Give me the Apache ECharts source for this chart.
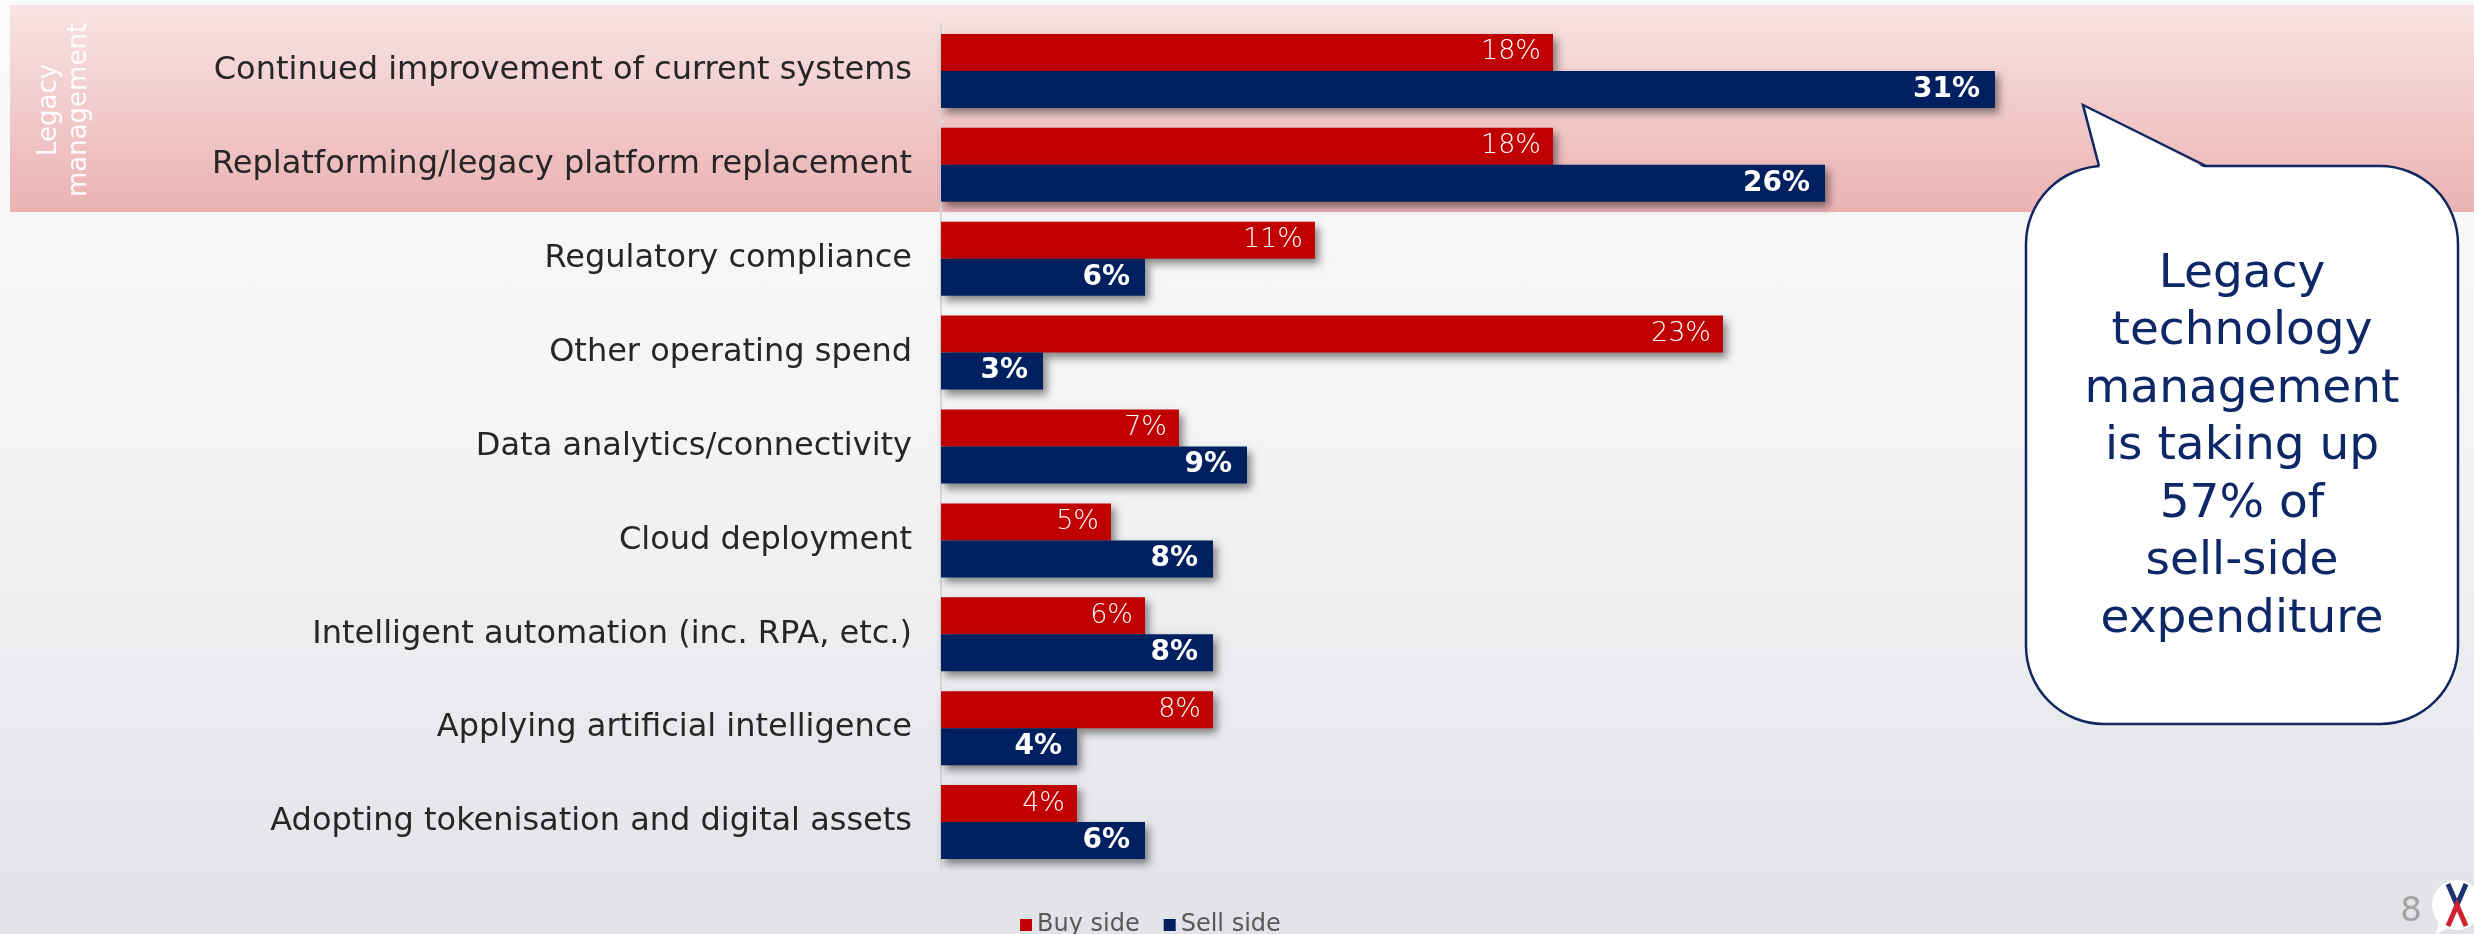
<!DOCTYPE html>
<html>
<head>
<meta charset="utf-8">
<title>Technology spend: buy side vs sell side</title>
<script src="https://cdn.jsdelivr.net/npm/echarts@6/dist/echarts.min.js"></script>
<style>
  html, body { margin: 0; padding: 0; width: 2474px; height: 934px; overflow: hidden; }
  body { background: linear-gradient(180deg, #f9fafa 0%, #f4f5f6 45%, #e2e3e7 100%); }
  #chart { width: 2474px; height: 934px; }
</style>
</head>
<body>
<div id="chart"></div>
<script>
// Spending categories, top to bottom
const categories = [
  'Continued improvement of current systems',
  'Replatforming/legacy platform replacement',
  'Regulatory compliance',
  'Other operating spend',
  'Data analytics/connectivity',
  'Cloud deployment',
  'Intelligent automation (inc. RPA, etc.)',
  'Applying artificial intelligence',
  'Adopting tokenisation and digital assets'
];

// Share of expenditure (%)
const buySide = [18, 18, 11, 23, 7, 5, 6, 8, 4];
const sellSide = [31, 26, 6, 3, 9, 8, 8, 4, 6];

const seriesNames = ['Buy side', 'Sell side'];
const bandTitle = ['Legacy', 'management'];
const calloutLines = ['Legacy', 'technology', 'management', 'is taking up', '57% of', 'sell-side', 'expenditure'];
const pageNumber = '8';

const FONT = '"DejaVu Sans", "Noto Sans", sans-serif';
const RED = '#c00000';
const NAVY = '#002060';
const BUBBLE_STROKE = '#12275f';

const chart = echarts.init(document.getElementById('chart'), null, { renderer: 'canvas' });

const barShadow = {
  shadowColor: 'rgba(0,0,0,0.45)',
  shadowBlur: 8,
  shadowOffsetX: 4,
  shadowOffsetY: 5
};

// Callout bubble geometry
const bubble = { x: 2026, y: 166, w: 432, h: 558, r: 78 };
const pointer = [[2099, 166], [2083, 105], [2206, 166]];

const option = {
  backgroundColor: 'transparent',
  animation: false,
  textStyle: { fontFamily: FONT },
  grid: { left: 941, top: 24, width: 1360, bottom: 65, containLabel: false },
  xAxis: {
    type: 'value',
    min: 0,
    max: 40,
    show: false
  },
  yAxis: {
    type: 'category',
    data: categories,
    inverse: true,
    axisLine: { show: true, lineStyle: { color: '#d6d6d6', width: 2 } },
    axisTick: { show: false },
    axisLabel: {
      fontFamily: FONT,
      fontSize: 32,
      fontWeight: 'normal',
      color: '#262626',
      margin: 29
    },
    splitLine: { show: false }
  },
  legend: {
    data: seriesNames,
    left: 1015,
    top: 908,
    icon: 'rect',
    itemWidth: 12,
    itemHeight: 12,
    itemGap: 24,
    textStyle: { fontFamily: FONT, fontSize: 24, color: '#595959' }
  },
  series: [
    {
      name: seriesNames[0],
      type: 'bar',
      data: buySide,
      barWidth: 37,
      barGap: '0%',
      itemStyle: Object.assign({ color: RED }, barShadow),
      label: {
        show: true,
        position: 'insideRight',
        distance: 12,
        formatter: '{c}%',
        fontFamily: FONT,
        fontSize: 27,
        fontWeight: 300,
        color: '#ffffff'
      }
    },
    {
      name: seriesNames[1],
      type: 'bar',
      data: sellSide,
      barWidth: 37,
      barGap: '0%',
      itemStyle: Object.assign({ color: NAVY }, barShadow),
      label: {
        show: true,
        position: 'insideRight',
        distance: 15,
        formatter: '{c}%',
        fontFamily: FONT,
        fontSize: 28,
        fontWeight: 'bold',
        color: '#ffffff'
      }
    }
  ],
  graphic: [
    // Highlight band behind the legacy-management rows
    {
      type: 'rect',
      z: -10,
      silent: true,
      shape: { x: 10, y: 5, width: 2464, height: 207 },
      style: {
        fill: new echarts.graphic.LinearGradient(0, 0, 0, 1, [
          { offset: 0, color: '#f8e4e4' },
          { offset: 1, color: '#ebb2b3' }
        ])
      }
    },
    // Vertical band title
    {
      type: 'group',
      x: 64,
      y: 110,
      rotation: Math.PI / 2,
      silent: true,
      children: [
        {
          type: 'text',
          x: 0, y: -15,
          style: {
            text: bandTitle[0], fill: 'rgba(255,255,255,0.95)', font: `26px ${FONT}`,
            align: 'center', verticalAlign: 'middle'
          }
        },
        {
          type: 'text',
          x: 0, y: 15,
          style: {
            text: bandTitle[1], fill: 'rgba(255,255,255,0.95)', font: `26px ${FONT}`,
            align: 'center', verticalAlign: 'middle'
          }
        }
      ]
    },
    // Callout bubble: rounded body, then the pointer drawn over its top edge
    {
      type: 'rect',
      silent: true,
      z: 5,
      shape: { x: bubble.x, y: bubble.y, width: bubble.w, height: bubble.h, r: bubble.r },
      style: { fill: '#ffffff', stroke: BUBBLE_STROKE, lineWidth: 2.5 }
    },
    {
      type: 'polygon',
      silent: true,
      z: 6,
      shape: { points: [[pointer[0][0] + 1, pointer[0][1] + 3], pointer[1], [pointer[2][0] + 1, pointer[2][1] + 3]] },
      style: { fill: '#ffffff' }
    },
    {
      type: 'polyline',
      silent: true,
      z: 7,
      shape: { points: pointer },
      style: { fill: null, stroke: BUBBLE_STROKE, lineWidth: 2.5, lineJoin: 'miter' }
    },
    {
      type: 'text',
      silent: true,
      z: 8,
      x: 2242,
      y: 447,
      style: {
        text: calloutLines.join('\n'),
        fill: '#0e2766',
        font: `47px ${FONT}`,
        lineHeight: 57.5,
        align: 'center',
        verticalAlign: 'middle'
      }
    },
    // Page number
    {
      type: 'text',
      silent: true,
      x: 2411,
      y: 912,
      style: {
        text: pageNumber, fill: '#a3a3a3', font: `34px ${FONT}`,
        align: 'center', verticalAlign: 'middle'
      }
    },
    // Corner logo mark
    {
      type: 'group',
      silent: true,
      children: [
        { type: 'polygon', shape: { points: [[2436, 934], [2440, 914], [2452, 926]] }, style: { fill: '#ffffff' } },
        { type: 'circle', shape: { cx: 2457, cy: 905, r: 25 }, style: { fill: '#ffffff' } },
        { type: 'polyline', shape: { points: [[2448, 884], [2457, 905], [2466, 884]] }, style: { stroke: '#1f3170', lineWidth: 5, fill: null } },
        { type: 'polyline', shape: { points: [[2448, 926], [2457, 905], [2466, 926]] }, style: { stroke: '#d1222f', lineWidth: 5, fill: null } }
      ]
    }
  ]
};

chart.setOption(option);
</script>
</body>
</html>
